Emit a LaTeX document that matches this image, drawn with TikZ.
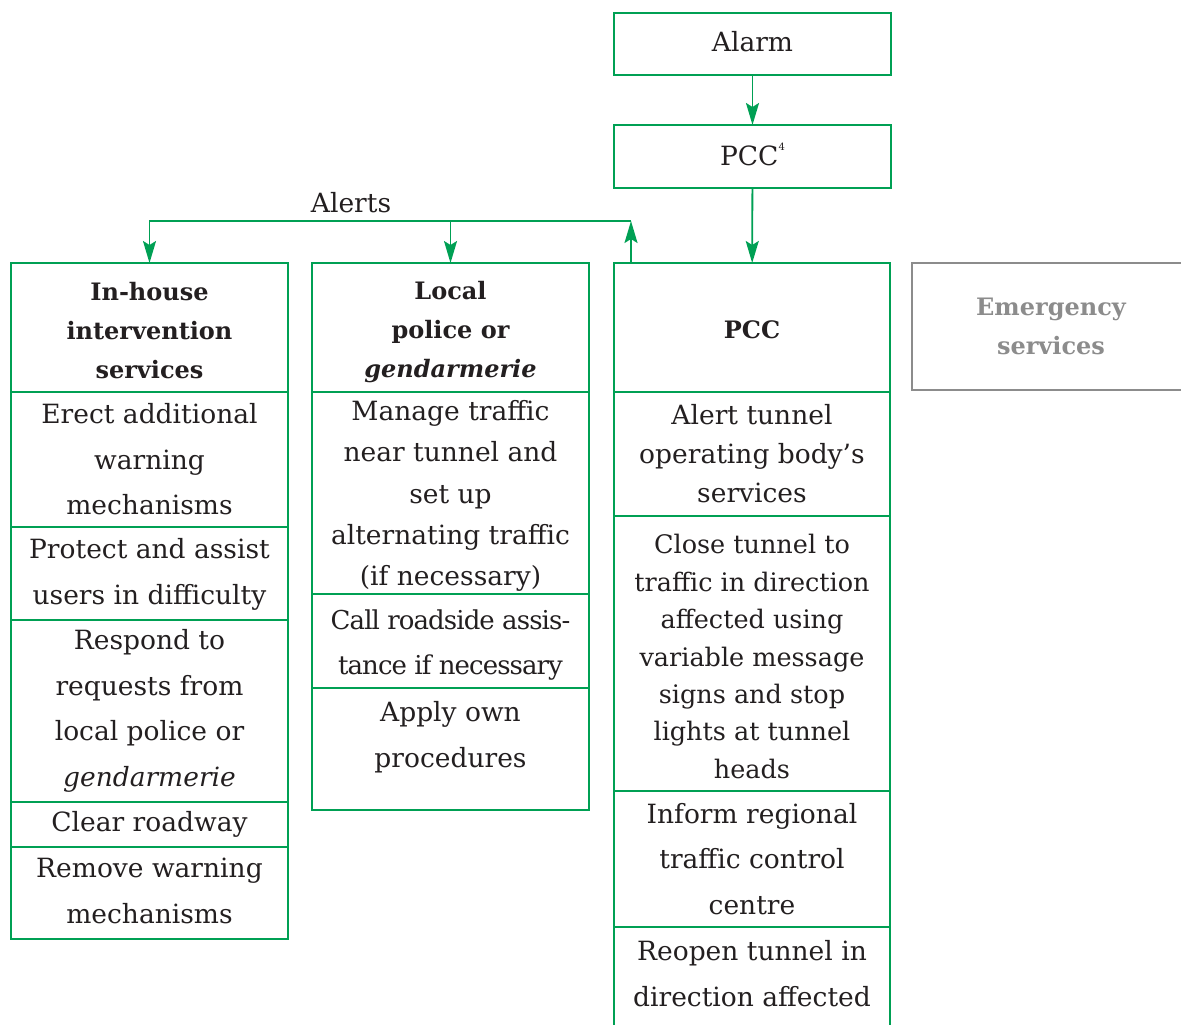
\documentclass[tikz,border=0pt]{standalone}
\usepackage{fontspec}
\setmainfont{DejaVu Serif}
\usetikzlibrary{arrows.meta}
\definecolor{boxgreen}{RGB}{0,160,84}
\definecolor{inkgray}{RGB}{35,31,32}
\definecolor{mutedgray}{RGB}{140,140,140}
\tikzset{
  cell/.style={draw=boxgreen, line width=1.8pt, anchor=north west, inner sep=0pt,
    outer sep=0pt, minimum width=277pt},
  txt/.style={align=center, text=inkgray, inner sep=0pt},
  body/.style={txt, font=\fontsize{26.5}{#1}\selectfont},
  body/.default=45.5,
  head/.style={txt, font=\fontsize{24}{39}\selectfont\bfseries},
  flow/.style={draw=boxgreen, line width=1.8pt,
    -{Stealth[length=22pt,width=13pt,inset=4pt]}},
}
\begin{document}
\begin{tikzpicture}[x=1pt,y=-1pt]
\useasboundingbox (0,0) rectangle (1181,1025);

% top of the chain
\node[cell, minimum height=62pt] (alarm) at (614,13) {};
\node[body] (alarmT) at ([yshift=2pt]alarm.center) {Alarm};
\node[cell, minimum height=63pt] (pcctop) at (614,125) {};
\node[body] (pcctopT) at ([yshift=2pt]pcctop.center)
  {PCC\raisebox{0.55em}{\fontsize{10}{10}\selectfont 4}};

% column 1: in-house intervention services
\node[cell, minimum height=129pt] (inhouse) at (11,263) {};
\node[head] (inhouseT) at ([yshift=-3pt]inhouse.center)
  {In-house\\intervention\\services};
\node[cell, minimum height=135pt] (c1a) at (11,392) {};
\node[body] (c1aT) at (c1a.center) {Erect additional\\warning\\mechanisms};
\node[cell, minimum height=93pt] (c1b) at (11,527) {};
\node[body] (c1bT) at ([yshift=-1pt]c1b.center) {Protect and assist\\users in difficulty};
\node[cell, minimum height=182pt] (c1c) at (11,620) {};
\node[body] (c1cT) at (c1c.center)
  {Respond to\\requests from\\local police or\\\textit{gendarmerie}};
\node[cell, minimum height=45pt] (c1d) at (11,802) {};
\node[body] (c1dT) at (c1d.center) {Clear roadway};
\node[cell, minimum height=92pt] (c1e) at (11,847) {};
\node[body] (c1eT) at ([yshift=2pt]c1e.center) {Remove warning\\mechanisms};

% column 2: local police or gendarmerie
\node[cell, minimum height=129pt] (police) at (312,263) {};
\node[head] (policeT) at ([yshift=-5pt]police.center)
  {Local\\police or\\\textit{gendarmerie}};
\node[cell, minimum height=202pt] (c2a) at (312,392) {};
\node[body=41.3] (c2aT) at ([yshift=-3pt]c2a.center)
  {Manage traffic\\near tunnel and\\set up\\alternating traffic\\(if necessary)};
\node[cell, minimum height=94pt] (c2b) at (312,594) {};
\node[body, font=\fontsize{26}{45}\selectfont\addfontfeatures{LetterSpace=-3.5}] (c2bT)
  at ([yshift=-4pt]c2b.center) {Call roadside assis-\\tance if necessary};
\node[cell, minimum height=122pt] (c2c) at (312,688) {};
\node[body] (c2cT) at ([yshift=12pt]c2c.center) {Apply own\\procedures};

% column 3: PCC
\node[cell, minimum width=276pt, minimum height=129pt] (pcc) at (614,263) {};
\node[head] (pccT) at ([yshift=-2pt]pcc.center) {PCC};
\node[cell, minimum width=276pt, minimum height=124pt] (c3a) at (614,392) {};
\node[body=39] (c3aT) at (c3a.center) {Alert tunnel\\operating body’s\\services};
\node[cell, minimum width=276pt, minimum height=275pt] (c3b) at (614,516) {};
\node[body=37.4, font=\fontsize{25.5}{37.4}\selectfont] (c3bT) at ([yshift=-3pt]c3b.center)
  {Close tunnel to\\traffic in direction\\affected using\\variable message\\signs and stop\\lights at tunnel\\heads};
\node[cell, minimum width=276pt, minimum height=136pt] (c3c) at (614,791) {};
\node[body] (c3cT) at (c3c.center) {Inform regional\\traffic control\\centre};
\node[cell, minimum width=276pt, minimum height=120pt] (c3d) at (614,927) {};
\node[body] (c3dT) at (752,973.5) {Reopen tunnel in\\direction affected};

% emergency services (outside the chain)
\node[cell, draw=mutedgray, line width=1.4pt, minimum width=278pt, minimum height=127pt]
  (emerg) at (912,263) {};
\node[head, text=mutedgray] (emergT) at (emerg.center) {Emergency\\services};

% connectors
\draw[flow] (alarm) -- (pcctop);
\draw[flow] (pcctop) -- (pcc);
\coordinate (alertsR) at (631,221);
\draw[flow] (pcc.north -| alertsR) -- (alertsR);
\draw[flow] (alertsR) -| (inhouse.north);
\draw[flow] (police.north |- alertsR) -- (police.north);
\node[body] (alerts) at (351,203) {Alerts};
\end{tikzpicture}
\end{document}
